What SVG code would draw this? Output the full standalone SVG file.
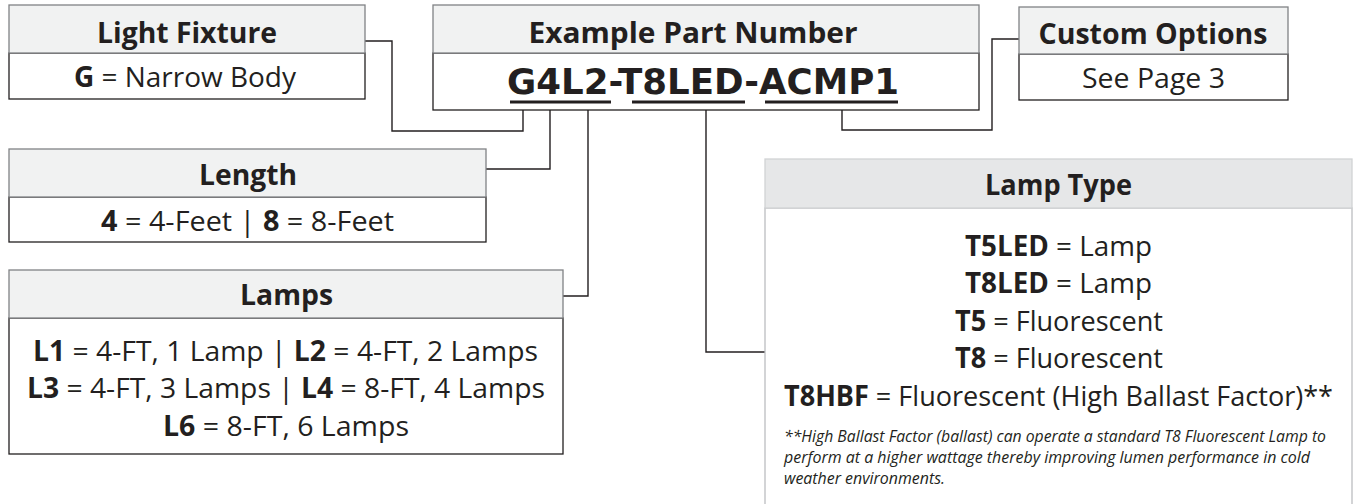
<svg xmlns="http://www.w3.org/2000/svg" width="1361" height="504" viewBox="0 0 1361 504">
<style>
  .hd { fill: #f1f2f2; stroke: #808285; stroke-width: 1.3; }
  .bd { fill: #ffffff; stroke: #231f20; stroke-width: 1.3; }
  .hd2 { fill: #e6e7e8; stroke: #d1d3d4; stroke-width: 1.3; }
  .bd2 { fill: #ffffff; stroke: #bcbec0; stroke-width: 1.3; }
  text { font-family: "Open Sans", "Noto Sans", sans-serif; fill: #231f20; }
  .h { font-weight: 700; font-size: 28px; text-anchor: middle; }
  .t { font-size: 28px; text-anchor: middle; }
  .b { font-weight: 700; }
  .code { font-family: "DejaVu Sans", sans-serif; font-weight: 700; font-size: 35.5px; text-anchor: middle; }
  .fn { font-style: italic; font-size: 15.5px; }
  .ln { fill: none; stroke: #231f20; stroke-width: 1.4; }
  .ul { stroke: #231f20; stroke-width: 2.8; }
</style>

<g id="connectors">
  <path class="ln" d="M365,41 H392 V131 H523 V110"/>
  <path class="ln" d="M486,169 H550 V110"/>
  <path class="ln" d="M563,296 H588 V110"/>
  <path class="ln" d="M706,110 V352 H765"/>
  <path class="ln" d="M842,110 V130 H992 V39 H1019"/>
</g>

<g id="light-fixture">
  <rect class="bd" x="9" y="53" width="356" height="46"/>
  <rect class="hd" x="9" y="5" width="356" height="48"/>
  <text class="h" x="187" y="43" textLength="180" lengthAdjust="spacingAndGlyphs">Light Fixture</text>
  <text class="t" x="185" y="87" textLength="222" lengthAdjust="spacingAndGlyphs"><tspan class="b">G</tspan> = Narrow Body</text>
</g>

<g id="part-number">
  <rect class="bd" x="433" y="53" width="546" height="57"/>
  <rect class="hd" x="433" y="5" width="546" height="48"/>
  <text class="h" x="693" y="43" textLength="329" lengthAdjust="spacingAndGlyphs">Example Part Number</text>
  <text class="code" x="703" y="94" textLength="392" lengthAdjust="spacingAndGlyphs">G4L2-T8LED-ACMP1</text>
  <line class="ul" x1="510" y1="102" x2="611" y2="102"/>
  <line class="ul" x1="632" y1="102" x2="745" y2="102"/>
  <line class="ul" x1="765" y1="102" x2="898" y2="102"/>
</g>

<g id="custom-options">
  <rect class="bd" x="1019" y="54" width="269" height="46"/>
  <rect class="hd" x="1019" y="7" width="269" height="47"/>
  <text class="h" x="1153" y="44" textLength="229" lengthAdjust="spacingAndGlyphs">Custom Options</text>
  <text class="t" x="1153.5" y="88" textLength="143" lengthAdjust="spacingAndGlyphs">See Page 3</text>
</g>

<g id="length">
  <rect class="bd" x="9" y="197" width="477" height="45"/>
  <rect class="hd" x="9" y="149" width="477" height="48"/>
  <text class="h" x="248" y="185" textLength="98" lengthAdjust="spacingAndGlyphs">Length</text>
  <text class="t" x="247.5" y="231" textLength="293" lengthAdjust="spacingAndGlyphs"><tspan class="b">4</tspan> = 4-Feet | <tspan class="b">8</tspan> = 8-Feet</text>
</g>

<g id="lamps">
  <rect class="bd" x="9" y="318" width="554" height="136"/>
  <rect class="hd" x="9" y="270" width="554" height="48"/>
  <text class="h" x="286.5" y="305" textLength="93" lengthAdjust="spacingAndGlyphs">Lamps</text>
  <text class="t" x="285.5" y="361" textLength="505" lengthAdjust="spacingAndGlyphs"><tspan class="b">L1</tspan> = 4-FT, 1 Lamp | <tspan class="b">L2</tspan> = 4-FT, 2 Lamps</text>
  <text class="t" x="286" y="398" textLength="518" lengthAdjust="spacingAndGlyphs"><tspan class="b">L3</tspan> = 4-FT, 3 Lamps | <tspan class="b">L4</tspan> = 8-FT, 4 Lamps</text>
  <text class="t" x="286" y="436" textLength="246" lengthAdjust="spacingAndGlyphs"><tspan class="b">L6</tspan> = 8-FT, 6 Lamps</text>
</g>

<g id="lamp-type">
  <rect class="bd2" x="765" y="208" width="587" height="310"/>
  <rect class="hd2" x="765" y="159" width="587" height="49"/>
  <text class="h" x="1058.5" y="195" textLength="147" lengthAdjust="spacingAndGlyphs">Lamp Type</text>
  <text class="t" x="1058.5" y="256" font-size="26.5" textLength="187" lengthAdjust="spacingAndGlyphs"><tspan class="b">T5LED</tspan> = Lamp</text>
  <text class="t" x="1058.5" y="293" font-size="26.5" textLength="187" lengthAdjust="spacingAndGlyphs"><tspan class="b">T8LED</tspan> = Lamp</text>
  <text class="t" x="1059" y="331" font-size="26.5" textLength="208" lengthAdjust="spacingAndGlyphs"><tspan class="b">T5</tspan> = Fluorescent</text>
  <text class="t" x="1059" y="368" font-size="26.5" textLength="208" lengthAdjust="spacingAndGlyphs"><tspan class="b">T8</tspan> = Fluorescent</text>
  <text class="t" x="1058.5" y="406" font-size="28.5" textLength="549" lengthAdjust="spacingAndGlyphs"><tspan class="b">T8HBF</tspan> = Fluorescent (High Ballast Factor)**</text>
  <text class="fn" x="784" y="442" textLength="542" lengthAdjust="spacingAndGlyphs">**High Ballast Factor (ballast) can operate a standard T8 Fluorescent Lamp to</text>
  <text class="fn" x="784" y="463" textLength="526" lengthAdjust="spacingAndGlyphs">perform at a higher wattage thereby improving lumen performance in cold</text>
  <text class="fn" x="784" y="484" textLength="161" lengthAdjust="spacingAndGlyphs">weather environments.</text>
</g>
</svg>
